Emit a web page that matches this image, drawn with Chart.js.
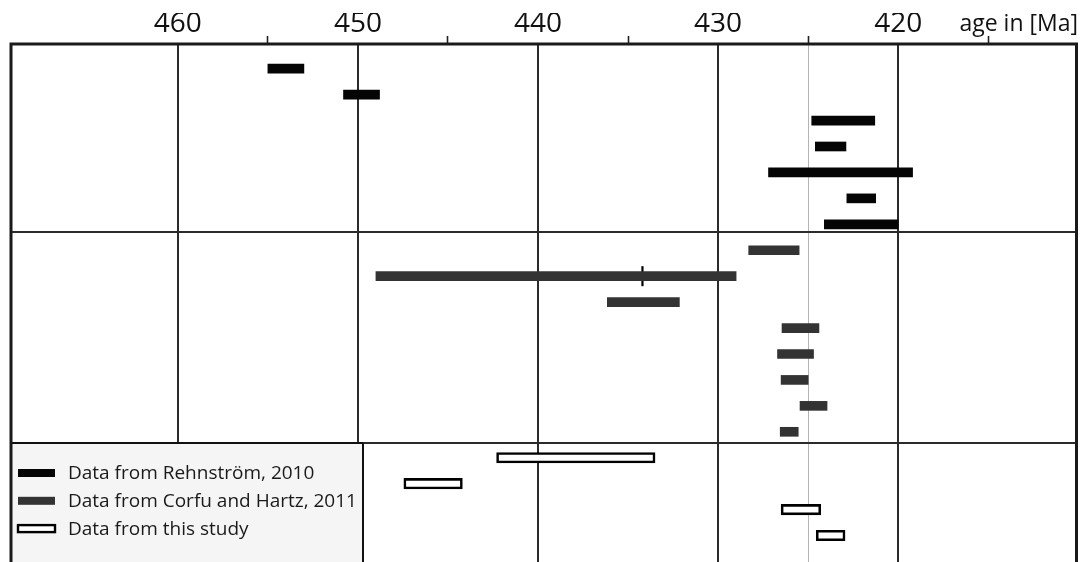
<!DOCTYPE html>
<html>
<head>
<meta charset="utf-8">
<script src="https://cdn.jsdelivr.net/npm/chart.js@4.4.1/dist/chart.umd.min.js"></script>
<style>
html,body{margin:0;padding:0;background:#fff;overflow:hidden}
#wrap{width:1082px;height:562px;position:relative}
</style>
</head>
<body>
<div id="wrap"><canvas id="c" width="1082" height="562"></canvas></div>
<script>
// Age intervals in Ma as [older, younger], one sample per row, listed top to bottom
const rehnstromAges = [[455.0,453.0],[450.8,448.8],[424.8,421.3],[424.6,422.9],[427.2,419.2],[422.85,421.25],[424.1,420.0]];
const corfuAges = [[428.3,425.5],[449.0,429.0],[436.15,432.15],[426.45,424.4],[426.7,424.7],[426.5,425.0],[425.45,423.95],[426.55,425.55]];
const studyAges = [[442.3,433.5],[447.45,444.2],[426.5,424.3],[424.55,422.95]];
// mean age marked on the Corfu & Hartz intervals (null where none)
const corfuMeans = [null,434.2,null,null,null,null,null,null];
const majorTicks = [460,450,440,430,420];
const minorTicks = [455,445,435,425,415];
const axisTitle = 'age in [Ma]';
const seriesLabels = ['Data from Rehnström, 2010','Data from Corfu and Hartz, 2011','Data from this study'];

const FONT = "'Open Sans', 'Noto Sans', sans-serif";

// each sample gets its own row, counted down from the top
let row = 0;
const toBars = ages => ages.map(a => ({x: a, y: ++row}));
const rehnBars = toBars(rehnstromAges);
const corfuBars = toBars(corfuAges);
const studyBars = toBars(studyAges);
const meanPts = corfuMeans
  .map((m, i) => m == null ? null : {x: m, y: corfuBars[i].y})
  .filter(Boolean);

const legendColors = [
  {fill:'#050505', stroke:null},
  {fill:'#333333', stroke:null},
  {fill:'#ffffff', stroke:'#000000'}
];

const decorations = {
  id: 'decorations',
  afterDatasetsDraw(chart, args, opts) {
    const {ctx, chartArea: ca, scales: {y}} = chart;
    ctx.save();
    // group separators
    ctx.strokeStyle = '#2b2b2b';
    ctx.lineWidth = 2;
    const sepY = opts.separators.map(v => Math.round(y.getPixelForValue(v)));
    sepY.forEach(py => {
      ctx.beginPath(); ctx.moveTo(ca.left, py); ctx.lineTo(ca.right, py); ctx.stroke();
    });
    // legend box in the lower-left corner
    const top = sepY[sepY.length - 1];
    const lx = ca.left, lw = opts.legendWidth;
    ctx.fillStyle = '#f5f5f5';
    ctx.fillRect(lx, top + 1, lw, ca.bottom - top);
    ctx.strokeStyle = '#111';
    ctx.lineWidth = 2;
    ctx.beginPath(); ctx.moveTo(lx + lw, top); ctx.lineTo(lx + lw, ca.bottom + 2); ctx.stroke();
    ctx.beginPath(); ctx.moveTo(lx, top); ctx.lineTo(lx + lw, top); ctx.stroke();
    ctx.font = '19px ' + FONT;
    ctx.textBaseline = 'middle';
    ctx.textAlign = 'left';
    chart.data.datasets.forEach((ds, i) => {
      if (!ds.label) return;
      const cy = top + 30 + i * 27.8;
      const c = legendColors[i];
      if (c.stroke) {
        ctx.fillStyle = c.fill;
        ctx.fillRect(lx + 8, cy - 3.5, 37, 7);
        ctx.strokeStyle = c.stroke; ctx.lineWidth = 2.4;
        ctx.strokeRect(lx + 8, cy - 3.5, 37, 7);
      } else {
        ctx.fillStyle = c.fill;
        ctx.fillRect(lx + 8, cy - 4, 37, 8);
      }
      ctx.fillStyle = '#1a1a1a';
      ctx.fillText(ds.label, lx + 58, cy + 0.5);
    });
    // plot frame
    ctx.strokeStyle = '#1a1a1a';
    ctx.lineWidth = 3;
    ctx.beginPath();
    ctx.moveTo(ca.left + 1, ca.bottom + 2);
    ctx.lineTo(ca.left + 1, ca.top);
    ctx.lineTo(ca.right - 0.5, ca.top);
    ctx.lineTo(ca.right - 0.5, ca.bottom + 2);
    ctx.stroke();
    // axis title
    ctx.fillStyle = '#111';
    ctx.font = '23px ' + FONT;
    ctx.textAlign = 'right';
    ctx.textBaseline = 'alphabetic';
    ctx.fillText(axisTitle, ca.right + 1, 31);
    ctx.restore();
  }
};

new Chart(document.getElementById('c'), {
  type: 'bar',
  data: {
    datasets: [
      {label: seriesLabels[0], data: rehnBars, backgroundColor: '#050505', borderWidth: 0, barThickness: 9, grouped: false},
      {label: seriesLabels[1], data: corfuBars, backgroundColor: '#333333', borderWidth: 0, barThickness: 9, grouped: false},
      {label: seriesLabels[2], data: studyBars, backgroundColor: '#ffffff', borderColor: '#000000', borderWidth: 2.6, borderSkipped: false, barThickness: 10.5, grouped: false},
      {type: 'scatter', data: meanPts, pointStyle: 'line', rotation: 90, radius: 10, borderColor: '#000', borderWidth: 2.2, backgroundColor: '#000'}
    ]
  },
  options: {
    indexAxis: 'y',
    responsive: false,
    animation: false,
    events: [],
    layout: {autoPadding: false, padding: {top: 13, left: 10, right: 5, bottom: 0}},
    plugins: {
      legend: {display: false},
      tooltip: {enabled: false},
      decorations: {separators: [7.3, 15.43], legendWidth: 353}
    },
    scales: {
      x: {
        type: 'linear', position: 'top', reverse: true,
        min: 410.07, max: 469.32, offset: false,
        afterBuildTicks: s => { s.ticks = [...majorTicks, ...minorTicks].sort((a, b) => a - b).map(v => ({value: v})); },
        ticks: {
          callback: v => majorTicks.includes(v) ? String(v) : '',
          font: {family: FONT, size: 28, lineHeight: 0.82},
          color: '#111', padding: 0, maxRotation: 0, autoSkip: false
        },
        grid: {
          offset: false,
          drawOnChartArea: true, drawTicks: true, tickLength: 8,
          color: c => majorTicks.includes(c.tick && c.tick.value) ? '#2b2b2b' : (c.tick && c.tick.value === 425 ? '#b4b4b4' : 'rgba(0,0,0,0)'),
          lineWidth: c => majorTicks.includes(c.tick && c.tick.value) ? 2 : 1,
          tickColor: c => minorTicks.includes(c.tick && c.tick.value) ? '#222' : 'rgba(0,0,0,0)',
          tickWidth: 1.6
        },
        border: {display: false}
      },
      y: {type: 'linear', reverse: true, min: 0.047, max: 20.02, offset: false, grid: {offset: false}, display: false}
    }
  },
  plugins: [decorations]
});
</script>
</body>
</html>
